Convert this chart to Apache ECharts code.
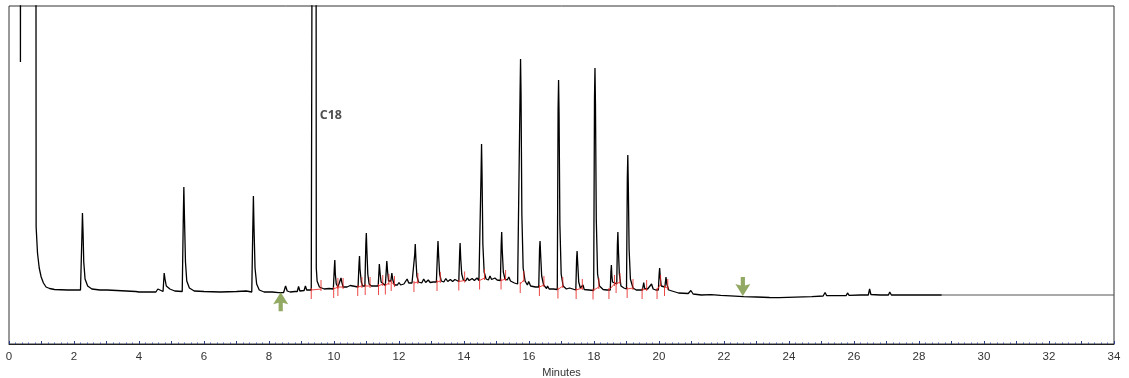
<!DOCTYPE html>
<html>
<head>
<meta charset="utf-8">
<script src="https://cdn.jsdelivr.net/npm/echarts@6/dist/echarts.min.js"></script>
<style>
  html, body { margin: 0; padding: 0; background: #fff; }
  #chart { width: 1129px; height: 378px; }
</style>
</head>
<body>
<div id="chart"></div>
<script>
// Detector response (arbitrary units) against retention time in minutes.
// Values above the axis top are clipped (solvent front and the C18 peak).
const trace = [
  [0,900],[0.34,900],[0.352,282],[0.364,900],[0.82,900],[0.835,117],[0.877,91],[0.93,76],[0.99,67],[1.06,61],[1.14,57],[1.25,55.5],[1.4,54.5],[1.8,54],[2.2,54],
  [2.245,110],[2.26,131],[2.28,110],[2.30,82],[2.34,65],[2.42,58],[2.55,55],[2.8,54],[3.02,54],[3.04,52.5],[3.9,52.5],[4.0,52],[4.52,52],[4.58,55],[4.63,53],[4.74,52.5],
  [4.775,71],[4.80,65],[4.84,58],[4.95,55],[5.1,53],[5.33,52.5],
  [5.365,130],[5.38,157],[5.40,125],[5.43,82],[5.47,63],[5.55,56],[5.7,53],[6.0,52.5],[6.5,52],[7.0,52.5],[7.3,53],[7.47,52],
  [7.50,112],[7.52,148],[7.54,115],[7.57,76],[7.62,60],[7.7,54],[7.85,52],[8.1,52],[8.3,51.3],
  [8.45,51.5],[8.51,58],[8.56,53],[8.65,52],[8.8,52.5],[8.87,52.5],[8.91,57.5],[8.95,53],[9.08,53.5],[9.12,58],[9.16,54],[9.30,54],
  [9.345,55],[9.36,900],[9.44,900],[9.455,76],[9.48,63],[9.55,57],[9.7,55],[9.85,55.5],[9.98,55],
  [10.01,76],[10.025,84],[10.04,70],[10.07,60],[10.12,57],[10.18,57.5],[10.215,66],[10.24,62],[10.28,57],[10.4,57],[10.5,58.5],[10.55,57],[10.74,57],
  [10.77,80],[10.785,88],[10.80,75],[10.84,62],[10.88,58],[10.95,58],
  [10.98,100],[10.995,111],[11.01,95],[11.04,70],[11.08,60],[11.15,58],[11.25,58],[11.36,58],
  [11.395,80],[11.42,70],[11.45,62],[11.50,60],[11.58,58.5],
  [11.625,83],[11.65,72],[11.68,63],[11.75,63],[11.78,71],[11.81,64],[11.86,59],[11.95,59],[12.0,61.5],[12.05,59],[12.15,60],[12.25,65],[12.3,61],[12.35,63],[12.40,61],[12.46,61],
  [12.485,90],[12.50,100],[12.52,85],[12.55,68],[12.60,62],[12.70,61],[12.76,65],[12.82,61.5],[12.90,64],[12.96,61.5],[13.05,62],[13.10,63.5],[13.15,62],
  [13.185,92],[13.20,103],[13.22,88],[13.25,70],[13.30,63],[13.38,62],[13.44,65.5],[13.50,62.5],[13.58,64.5],[13.65,62.5],[13.72,64.5],[13.78,62.5],[13.84,62.5],
  [13.865,90],[13.88,101],[13.90,85],[13.93,70],[13.98,64],[14.05,63],[14.10,66],[14.16,63.5],[14.25,65.5],[14.32,63.5],[14.40,66],[14.46,63.5],[14.50,63.5],
  [14.525,170],[14.54,200],[14.555,170],[14.58,100],[14.62,72],[14.68,65],[14.75,64],[14.80,68],[14.85,64.5],[14.95,66],[15.02,64],[15.12,63.5],
  [15.145,100],[15.16,112],[15.175,95],[15.21,72],[15.26,65],[15.33,64],[15.38,67],[15.43,63],[15.55,61],[15.65,60],[15.70,60],
  [15.725,250],[15.74,285],[15.755,250],[15.78,130],[15.82,76],[15.88,63],[15.95,59],[15.99,62.5],[16.05,58],[16.20,57],[16.30,57],
  [16.325,95],[16.34,103],[16.36,88],[16.39,68],[16.45,59],[16.54,55.5],[16.57,58],[16.62,55],[16.75,55],[16.87,54.5],
  [16.895,235],[16.91,264],[16.925,230],[16.95,120],[16.99,70],[17.05,58],[17.15,55],[17.25,56],[17.3,54.5],[17.44,54],
  [17.465,85],[17.48,93],[17.50,80],[17.53,62],[17.58,56],[17.62,54],[17.66,59],[17.70,54.5],[17.85,54],[17.99,53.5],
  [18.015,245],[18.03,276],[18.045,240],[18.07,125],[18.11,70],[18.17,58],[18.23,58.5],[18.28,54.5],[18.40,54],[18.50,54],
  [18.52,72],[18.535,79],[18.55,68],[18.57,62],[18.62,60],[18.70,60],
  [18.72,100],[18.735,112],[18.75,95],[18.78,70],[18.83,58],[18.92,56],[19.00,55],
  [19.025,165],[19.04,189],[19.055,160],[19.08,95],[19.12,65],[19.20,56],[19.30,54],[19.49,54],[19.53,61.5],[19.56,55.5],[19.65,55],[19.70,57],[19.77,60],[19.82,55],[19.90,54],[19.98,54],
  [20.005,70],[20.02,76],[20.04,66],[20.07,58],[20.12,57],[20.18,57],[20.215,67],[20.24,60],[20.30,54],[20.4,53],[20.6,51],[20.9,50.5],[20.98,53.5],[21.05,50],
  [21.3,49],[21.6,49.3],[21.9,48.7],[22.2,48.2],[22.6,47.3],[23.0,47],[23.4,46.5],[23.7,46.3],[24.2,46.8],[24.7,47.3],
  [25.05,48],[25.11,51.5],[25.16,48.3],[25.5,48.3],[25.76,48.5],[25.8,51],[25.85,48.7],[26.2,49],[26.44,49],[26.48,55],[26.52,49.5],
  [26.8,49],[27.06,49],[27.1,52],[27.15,49],[27.5,49],[28,49],[28.7,49]
];

// Flat end of the run, drawn in grey.
const traceTail = [[28.7,49],[34,49]];

// Integrated peaks: [start time, start level, end time, end level].
const integrations = [
  [9.30,54,9.60,55],[9.99,55,10.12,57],[10.12,57,10.28,57],[10.73,57,10.86,58],
  [10.96,58,11.11,58],[11.37,58,11.50,60],[11.58,58.5,11.69,61],[11.76,62,11.86,59],
  [12.46,61,12.58,62],[13.17,62,13.27,63],[13.84,62.5,14.02,63.5],[14.48,63.5,14.63,66],
  [15.14,63.5,15.28,65],[15.73,60,15.84,64],[16.32,57,16.46,59],[16.89,54.5,17.04,58],
  [17.45,54,17.64,56],[17.97,53.5,18.15,57],[18.46,54,18.63,60],[18.68,60,18.80,62],
  [19.02,55,19.20,56],[19.48,54,19.62,55],[19.94,54,20.05,60],[20.17,57,20.27,56]
];

// Window markers: [time, level, direction].
const windowArrows = [[8.36,42.2,'up'],[22.58,57.6,'down']];

// Peak annotation.
const peakLabels = [[9.56,229,'C18']];

const xTicks = { min: 0, max: 34, step: 2 };

const chart = echarts.init(document.getElementById('chart'), null, { renderer: 'canvas' });

const RED = 'rgba(232,40,36,0.85)';
const arrowPath = 'path://M7.5,0 L15,12 L9.6,10.5 L9.6,19 L5.4,19 L5.4,10.5 L0,12 Z';

chart.setOption({
  animation: false,
  backgroundColor: '#ffffff',
  grid: {
    left: 9, right: 15, top: 6, bottom: 34,
    containLabel: false, outerBoundsMode: 'none',
    show: true, borderColor: '#333', borderWidth: 1
  },
  xAxis: {
    type: 'value', min: xTicks.min, max: xTicks.max, interval: 1,
    name: 'Minutes', nameLocation: 'middle', nameGap: 21,
    nameTextStyle: { fontFamily: 'Liberation Sans', fontSize: 11, color: '#333' },
    axisLine: { lineStyle: { color: '#222', width: 1 } },
    axisTick: { show: true, inside: true, length: 3, lineStyle: { color: '#2b3f8c' } },
    minorTick: { show: true, splitNumber: 5, length: 1.5, lineStyle: { color: '#4a5ea8' } },
    splitLine: { show: false },
    axisLabel: {
      margin: 7, fontFamily: 'Liberation Sans', fontSize: 11.5, color: '#333',
      formatter: v => (v % xTicks.step === 0 ? String(v) : '')
    }
  },
  yAxis: {
    type: 'value', min: 0, max: 338, show: false, splitLine: { show: false }
  },
  series: [
    {
      type: 'line', data: trace, showSymbol: false, smooth: false, sampling: 'none', clip: true,
      lineStyle: { color: '#000', width: 1.3 }, z: 3
    },
    {
      type: 'line', data: traceTail, showSymbol: false, clip: true,
      lineStyle: { color: '#555', width: 1.1 }, z: 3
    },
    {
      type: 'custom', data: integrations, z: 4, clip: true,
      encode: { x: [0, 2], y: [1, 3] },
      renderItem: (params, api) => {
        const s = api.coord([api.value(0), api.value(1)]);
        const e = api.coord([api.value(2), api.value(3)]);
        const st = { stroke: RED, lineWidth: 1 };
        return {
          type: 'group',
          children: [
            { type: 'line', shape: { x1: s[0], y1: s[1], x2: e[0], y2: e[1] }, style: st },
            { type: 'line', shape: { x1: s[0], y1: s[1] - 2, x2: s[0], y2: s[1] + 9 }, style: st },
            { type: 'line', shape: { x1: e[0], y1: e[1] + 2, x2: e[0], y2: e[1] - 9 }, style: st }
          ]
        };
      }
    },
    {
      type: 'scatter', z: 5,
      data: windowArrows.map(a => ({ value: [a[0], a[1]], symbolRotate: a[2] === 'up' ? 0 : 180 })),
      symbol: arrowPath, symbolSize: [15, 19],
      itemStyle: { color: '#77933c' }
    },
    {
      type: 'scatter', z: 6, symbolSize: 0,
      data: peakLabels.map(p => ({ value: [p[0], p[1]], name: p[2] })),
      label: {
        show: true, position: 'right', distance: 0, formatter: '{b}',
        fontFamily: 'Open Sans', fontWeight: 'bold', fontSize: 12.5, color: '#222'
      }
    }
  ]
});
</script>
</body>
</html>
